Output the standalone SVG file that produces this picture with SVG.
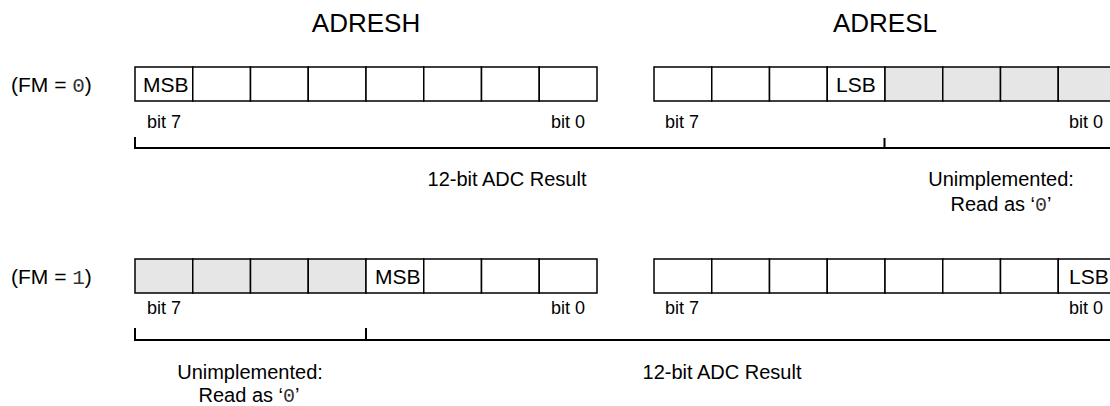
<svg xmlns="http://www.w3.org/2000/svg" width="1110" height="406" viewBox="0 0 1110 406">
<style>
text{font-family:"Liberation Sans",Arial,sans-serif;fill:#000}
.t{font-size:20px}
.h{font-size:26px}
.b{font-size:18px}
.c{font-size:21px}
.m{font-family:"Liberation Mono","Courier New",monospace;fill:#333}
.cell{fill:#fff;stroke:#000;stroke-width:1.5}
.g{fill:#e6e6e6;stroke:#000;stroke-width:1.5}
.br{fill:none;stroke:#000;stroke-width:2}
</style>
<rect width="1110" height="406" fill="#fff"/>
<g id="titles">
<text class="h" x="366" y="32" text-anchor="middle">ADRESH</text>
<text class="h" x="885" y="32" text-anchor="middle">ADRESL</text>
</g>
<g id="fm0-label"><text class="c" x="11" y="92">(FM = <tspan class="m">0</tspan>)</text></g>
<g id="fm1-label"><text class="c" x="11" y="284">(FM = <tspan class="m">1</tspan>)</text></g>
<g id="row0-adresh">
<rect class="cell" x="135" y="67" width="57.75" height="34"/>
<rect class="cell" x="192.75" y="67" width="57.75" height="34"/>
<rect class="cell" x="250.5" y="67" width="57.75" height="34"/>
<rect class="cell" x="308.25" y="67" width="57.75" height="34"/>
<rect class="cell" x="366" y="67" width="57.75" height="34"/>
<rect class="cell" x="423.75" y="67" width="57.75" height="34"/>
<rect class="cell" x="481.5" y="67" width="57.75" height="34"/>
<rect class="cell" x="539.25" y="67" width="57.75" height="34"/>
<text class="c" x="143" y="92">MSB</text>
<text class="b" x="147" y="128">bit 7</text>
<text class="b" x="585" y="128" text-anchor="end">bit 0</text>
</g>
<g id="row0-adresl">
<rect class="cell" x="654" y="67" width="57.75" height="34"/>
<rect class="cell" x="711.75" y="67" width="57.75" height="34"/>
<rect class="cell" x="769.5" y="67" width="57.75" height="34"/>
<rect class="cell" x="827.25" y="67" width="57.75" height="34"/>
<rect class="g" x="885" y="67" width="57.75" height="34"/>
<rect class="g" x="942.75" y="67" width="57.75" height="34"/>
<rect class="g" x="1000.5" y="67" width="57.75" height="34"/>
<rect class="g" x="1058.25" y="67" width="57.75" height="34"/>
<text class="c" x="836" y="92">LSB</text>
<text class="b" x="665" y="128">bit 7</text>
<text class="b" x="1103" y="128" text-anchor="end">bit 0</text>
</g>
<g id="row1-adresh">
<rect class="g" x="135" y="259" width="57.75" height="34"/>
<rect class="g" x="192.75" y="259" width="57.75" height="34"/>
<rect class="g" x="250.5" y="259" width="57.75" height="34"/>
<rect class="g" x="308.25" y="259" width="57.75" height="34"/>
<rect class="cell" x="366" y="259" width="57.75" height="34"/>
<rect class="cell" x="423.75" y="259" width="57.75" height="34"/>
<rect class="cell" x="481.5" y="259" width="57.75" height="34"/>
<rect class="cell" x="539.25" y="259" width="57.75" height="34"/>
<text class="c" x="375" y="284">MSB</text>
<text class="b" x="147" y="314">bit 7</text>
<text class="b" x="585" y="314" text-anchor="end">bit 0</text>
</g>
<g id="row1-adresl">
<rect class="cell" x="654" y="259" width="57.75" height="34"/>
<rect class="cell" x="711.75" y="259" width="57.75" height="34"/>
<rect class="cell" x="769.5" y="259" width="57.75" height="34"/>
<rect class="cell" x="827.25" y="259" width="57.75" height="34"/>
<rect class="cell" x="885" y="259" width="57.75" height="34"/>
<rect class="cell" x="942.75" y="259" width="57.75" height="34"/>
<rect class="cell" x="1000.5" y="259" width="57.75" height="34"/>
<rect class="cell" x="1058.25" y="259" width="57.75" height="34"/>
<text class="c" x="1069" y="284">LSB</text>
<text class="b" x="665" y="314">bit 7</text>
<text class="b" x="1103" y="314" text-anchor="end">bit 0</text>
</g>
<g id="connectors">
<path class="br" d="M135 137V148H1116M884.5 138V148"/>
<path class="br" d="M135 328V340H1116M366 328V340"/>
</g>
<g id="row0-notes">
<text class="t" x="507" y="186" text-anchor="middle">12-bit ADC Result</text>
<text class="t" x="1001" y="186" text-anchor="middle">Unimplemented:</text>
<text class="t" x="1001" y="211" text-anchor="middle">Read as ‘<tspan class="m">0</tspan>’</text>
</g>
<g id="row1-notes">
<text class="t" x="250" y="379" text-anchor="middle">Unimplemented:</text>
<text class="t" x="249" y="402" text-anchor="middle">Read as ‘<tspan class="m">0</tspan>’</text>
<text class="t" x="722" y="379" text-anchor="middle">12-bit ADC Result</text>
</g>
</svg>
